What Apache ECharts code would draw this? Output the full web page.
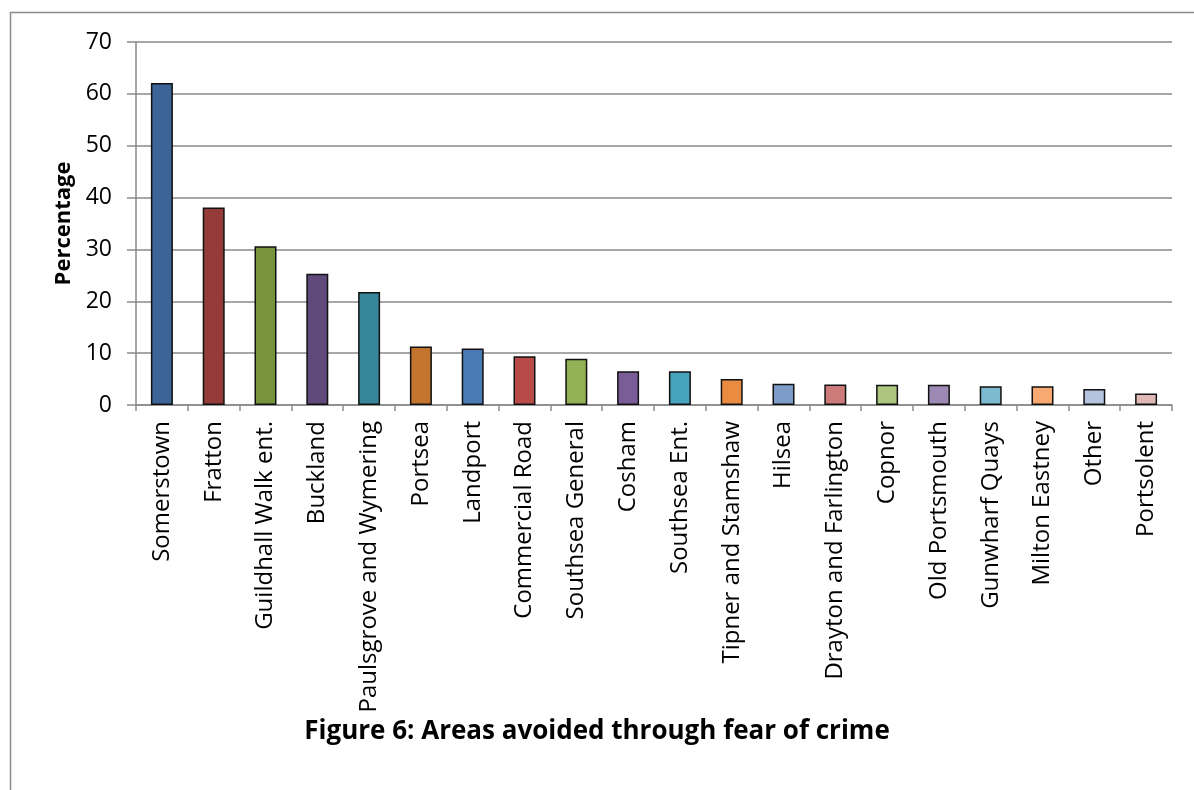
<!DOCTYPE html>
<html>
<head>
<meta charset="utf-8">
<script src="https://cdn.jsdelivr.net/npm/echarts@6/dist/echarts.min.js"></script>
<style>
html,body{margin:0;padding:0;background:#fff;}
#chart{width:1194px;height:790px;}
</style>
</head>
<body>
<div id="chart"></div>
<script>
const categories = ["Somerstown","Fratton","Guildhall Walk ent.","Buckland","Paulsgrove and Wymering","Portsea","Landport","Commercial Road","Southsea General","Cosham","Southsea Ent.","Tipner and Stamshaw","Hilsea","Drayton and Farlington","Copnor","Old Portsmouth","Gunwharf Quays","Milton Eastney","Other","Portsolent"];
const values = [62.1, 38.1, 30.6, 25.3, 21.8, 11.3, 10.9, 9.4, 8.9, 6.5, 6.5, 5.0, 4.1, 3.95, 3.9, 3.9, 3.6, 3.6, 3.1, 2.2];
const barColors = ["#3C6496","#953B39","#77933C","#604A7B","#37879B","#C3752F","#4A7AB3","#B84B48","#93B155","#7A5C98","#47A3BC","#E98B40","#7E9CC8","#CC7B7A","#ADC67F","#9C89B4","#7BBACF","#F8A972","#B4C3DE","#DFB8B7"];
const yTicks = {min: 0, max: 70, interval: 10};

const chart = echarts.init(document.getElementById('chart'), null, {renderer: 'canvas'});
const FONT = '"Open Sans", sans-serif';
chart.setOption({
  animation: false,
  backgroundColor: '#ffffff',
  graphic: [{
    type: 'rect',
    shape: {x: 10.5, y: 12.5, width: 1300, height: 900},
    style: {fill: 'none', stroke: '#8a8a8a', lineWidth: 1.5},
    silent: true
  }],
  title: {
    text: 'Figure 6: Areas avoided through fear of crime',
    left: 'center',
    top: 714,
    textStyle: {fontFamily: FONT, fontWeight: 'bold', fontSize: 26, color: '#000'}
  },
  grid: {left: 136, right: 22, top: 42, bottom: 385, containLabel: false},
  xAxis: {
    type: 'category',
    data: categories,
    axisLine: {lineStyle: {color: '#8a8a8a', width: 1.5}},
    axisTick: {show: true, alignWithLabel: false, length: 6, lineStyle: {color: '#8a8a8a', width: 1.5}},
    axisLabel: {rotate: 90, interval: 0, margin: 16, fontFamily: FONT, fontSize: 24, color: '#000'}
  },
  yAxis: {
    type: 'value',
    min: yTicks.min, max: yTicks.max, interval: yTicks.interval,
    name: 'Percentage',
    nameLocation: 'middle',
    nameGap: 61,
    nameTextStyle: {fontFamily: FONT, fontWeight: 'bold', fontSize: 22, color: '#000'},
    axisLine: {show: true, lineStyle: {color: '#8a8a8a', width: 1.5}},
    axisTick: {show: true, length: 9, lineStyle: {color: '#8a8a8a', width: 1.5}},
    axisLabel: {margin: 24, fontFamily: FONT, fontSize: 23, color: '#000'},
    splitLine: {show: true, lineStyle: {color: '#8a8a8a', width: 1.5}}
  },
  series: [{
    type: 'bar',
    data: values.map((v, i) => ({value: v, itemStyle: {color: barColors[i]}})),
    barWidth: 22,
    itemStyle: {borderColor: '#111', borderWidth: 1.5}
  }]
});
</script>
</body>
</html>
